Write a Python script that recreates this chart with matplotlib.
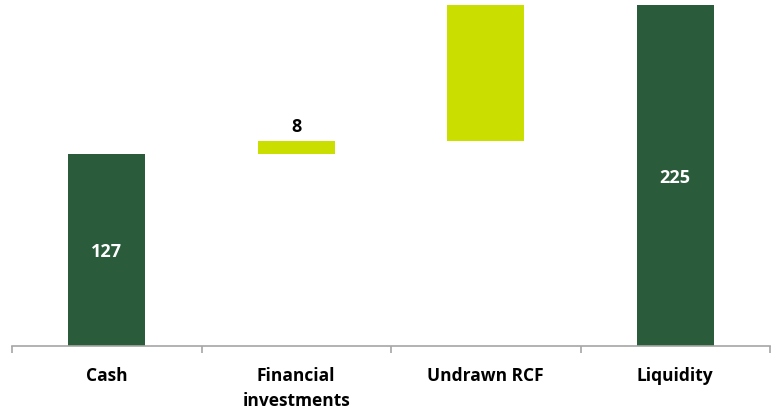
import matplotlib.pyplot as plt
import numpy as np

categories = ["Cash", "Financial\ninvestments", "Undrawn RCF", "Liquidity"]
values = [127, 8, 90, 225]
bases = [0, 127, 135, 0]
shown_labels = ["127", "8", "", "225"]
bar_colors = ["#2a5b3a", "#cadf00", "#cadf00", "#2a5b3a"]

plt.rcParams['font.family'] = ['Open Sans', 'DejaVu Sans']

fig = plt.figure(figsize=(7.78, 4.12), dpi=100)
ax = fig.add_axes([12 / 778, 1 - 346 / 412, 758 / 778, 341 / 412])

x = np.arange(len(categories))
bars = ax.bar(x, values, bottom=bases, width=0.405, color=bar_colors)

for i, (b, lab) in enumerate(zip(bars, shown_labels)):
    if not lab:
        continue
    if i == 1:
        # small step: value sits above the bar
        ax.annotate(lab, (b.get_x() + b.get_width() / 2, bases[i] + values[i]),
                    xytext=(0, 4), textcoords="offset points",
                    ha="center", va="bottom", fontsize=13, fontweight="bold",
                    color="black")
    else:
        ax.text(b.get_x() + b.get_width() / 2, bases[i] + values[i] / 2 - 1.5, lab,
                ha="center", va="center", fontsize=13, fontweight="bold",
                color="white")

ax.set_xlim(-0.5, len(categories) - 0.5)
ax.set_ylim(0, 225)

for s in ["top", "right", "left"]:
    ax.spines[s].set_visible(False)
ax.spines["bottom"].set_color("#a6a6a6")
ax.spines["bottom"].set_linewidth(1.2)
ax.set_yticks([])

ax.set_xticks(np.arange(-0.5, len(categories), 1.0), minor=False)
ax.set_xticklabels([])
ax.tick_params(axis="x", which="major", length=5, color="#a6a6a6", width=1.2)
ax.set_xticks(x, minor=True)
ax.set_xticklabels(categories, minor=True, fontsize=12.5, fontweight="bold",
                   linespacing=1.5, va="top")
ax.tick_params(axis="x", which="minor", length=0, pad=15)

fig.savefig("out.png", dpi=100)
